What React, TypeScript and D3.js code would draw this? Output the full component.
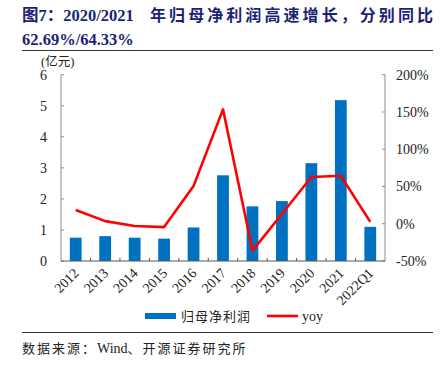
import React from "react";
import * as d3 from "d3";

const categories = ["2012", "2013", "2014", "2015", "2016", "2017", "2018", "2019", "2020", "2021", "2022Q1"];
const profit = [0.75, 0.8, 0.75, 0.72, 1.08, 2.76, 1.76, 1.93, 3.15, 5.18, 1.1];
const yoy = [18.5, 3.5, -3, -4.5, 50.5, 153.5, -36, 13, 62.69, 64.33, 2.5];
const leftTicks = [0, 1, 2, 3, 4, 5, 6];
const rightTicks = [-50, 0, 50, 100, 150, 200];

const W = 445, H = 365;
const plot = { left: 61, right: 385, top: 74.7, bottom: 261 };
const serif = "'Liberation Serif', 'Noto Sans CJK SC', serif";
const cjk = "'Liberation Serif', 'Noto Sans CJK SC', sans-serif";

export default function App() {
  const x = d3.scaleBand<string>().domain(categories).range([plot.left, plot.right]).paddingInner(0).paddingOuter(0);
  const yL = d3.scaleLinear().domain([0, 6]).range([plot.bottom, plot.top]);
  const yR = d3.scaleLinear().domain([-50, 200]).range([plot.bottom, plot.top]);
  const bw = x.bandwidth() * 0.4;
  const line = d3.line<number>().x((_, i) => (x(categories[i]) as number) + x.bandwidth() / 2).y((d) => yR(d));
  const axisColor = "#8c8c8c";
  return (
    <svg width={W} height={H} style={{ position: "absolute", left: 0, top: 0, background: "#fff" }}>
      <text x={22} y={21} fontFamily={serif} fontWeight="bold" fontSize={16.5} fill="#1c1f75">图7：2020/2021</text>
      <text x={150} y={21} fontFamily={cjk} fontWeight="bold" fontSize={16} fill="#1c1f75" textLength={283} lengthAdjust="spacing">年归母净利润高速增长，分别同比</text>
      <text x={22} y={45} fontFamily={serif} fontWeight="bold" fontSize={16.5} fill="#1c1f75">62.69%/64.33%</text>
      <line x1={22} x2={433} y1={50.5} y2={50.5} stroke="#333" strokeWidth={1} />

      <text x={41} y={66} fontFamily={cjk} fontSize={12.5} fill="#222">(亿元)</text>

      {categories.map((c, i) => (
        <rect key={c} x={(x(c) as number) + x.bandwidth() / 2 - bw / 2} y={yL(profit[i])} width={bw} height={plot.bottom - yL(profit[i])} fill="#0070c0" />
      ))}
      <path d={line(yoy) || ""} fill="none" stroke="#ff0000" strokeWidth={2.6} strokeLinejoin="round" />

      <line x1={plot.left} x2={plot.left} y1={plot.top} y2={plot.bottom} stroke={axisColor} />
      {leftTicks.map((t) => (
        <g key={t}>
          <line x1={plot.left} x2={plot.left + 3} y1={yL(t)} y2={yL(t)} stroke={axisColor} />
          <text x={47} y={yL(t) + 5} textAnchor="end" fontFamily={serif} fontSize={14} fill="#222">{t}</text>
        </g>
      ))}
      <line x1={plot.right} x2={plot.right} y1={plot.top} y2={plot.bottom} stroke={axisColor} />
      {rightTicks.map((t) => (
        <g key={t}>
          <line x1={plot.right - 3} x2={plot.right} y1={yR(t)} y2={yR(t)} stroke={axisColor} />
          <text x={396} y={yR(t) + 5} textAnchor="start" fontFamily={serif} fontSize={14} fill="#222">{t}%</text>
        </g>
      ))}
      <line x1={plot.left} x2={plot.right} y1={plot.bottom} y2={plot.bottom} stroke="#555" />
      {categories.slice(1).map((c) => (
        <line key={c} x1={x(c) as number} x2={x(c) as number} y1={plot.bottom} y2={plot.bottom - 3} stroke="#555" />
      ))}
      {categories.map((c) => {
        const cx = (x(c) as number) + x.bandwidth() / 2 + 4;
        return (
          <text key={c} transform={`translate(${cx},${274}) rotate(-45)`} textAnchor="end" fontFamily={serif} fontSize={14} fill="#222">{c}</text>
        );
      })}

      <rect x={145} y={313} width={31} height={6} fill="#0070c0" />
      <text x={181} y={321} fontFamily={cjk} fontSize={13} letterSpacing={1} fill="#222">归母净利润</text>
      <line x1={267} x2={298} y1={316} y2={316} stroke="#ff0000" strokeWidth={2.6} />
      <text x={302} y={321} fontFamily={serif} fontSize={14} fill="#222">yoy</text>

      <line x1={22} x2={433} y1={332.5} y2={332.5} stroke="#333" strokeWidth={1} />
      <text x={22} y={353} fontFamily={cjk} fontSize={13} fill="#222">
        <tspan letterSpacing={2}>数据来源：</tspan>
        <tspan fontSize={14}>Wind</tspan>
        <tspan letterSpacing={2}>、开源证券研究所</tspan>
      </text>
    </svg>
  );
}
